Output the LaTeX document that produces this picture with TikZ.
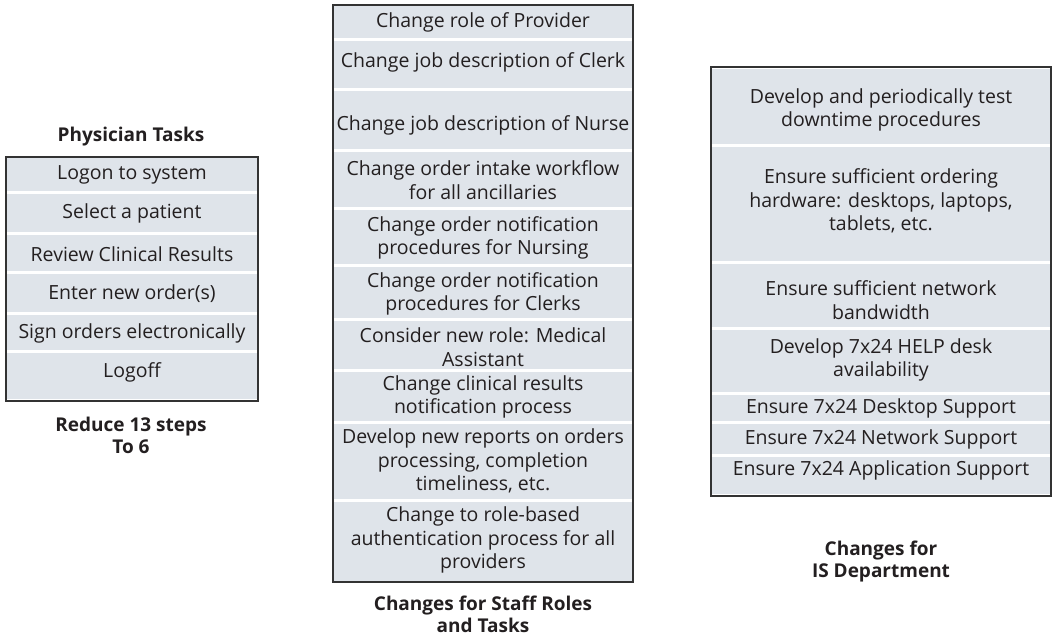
\documentclass[tikz,border=0pt]{standalone}
\usepackage{fontspec}
\setmainfont{Open Sans}
\definecolor{rowfill}{HTML}{DFE4EA}
\definecolor{boxline}{HTML}{333333}
\definecolor{ctext}{HTML}{231F20}

\begin{document}
\begin{tikzpicture}[x=1pt, y=-1pt,
  rowtext/.style={font=\fontsize{19.5}{23.5}\selectfont, text=ctext, align=center, inner sep=0pt},
  captext/.style={font=\fontsize{19}{22}\selectfont\bfseries, text=ctext, align=center, inner sep=0pt},
  outline/.style={draw=boxline, line width=1.8pt}]
  \useasboundingbox (0,0) rectangle (1060,638);
  % physician tasks
  \node[captext] (phystitle) at (131,137) {Physician Tasks};
  \foreach \ya/\yb/\ym/\txt [count=\i] in {
      158/191/175/{Logon to system},
      194/232/213/{Select a patient},
      235/271/254/{Review Clinical Results},
      274/312/294/{Enter new order(s)},
      315/350/333/{Sign orders electronically},
      353/399/372/{Logoff}}{
    \fill[rowfill] (7,\ya) rectangle (257,\yb);
    \node[rowtext] (phys\i) at (132,\ym) {\txt};
  }
  \draw[outline] (6,157) rectangle (258,401);
  \node[captext] (physnote) at (131,435) {Reduce 13 steps\\To 6};
  % staff roles and tasks
  \foreach \ya/\yb/\ym/\txt [count=\i] in {
      6/38/22/{Change role of Provider},
      41/88/62/{Change job description of Clerk},
      91/149/125/{Change job description of Nurse},
      152/207/180/{Change order intake workflow\\for all ancillaries},
      210/264/238/{Change order notification\\procedures for Nursing},
      267/318/294/{Change order notification\\procedures for Clerks},
      321/369/347/{Consider new role: Medical\\Assistant},
      372/421/397/{Change clinical results\\notification process},
      424/499/461/{Develop new reports on orders\\processing, completion\\timeliness, etc.},
      502/581/540/{Change to role-based\\authentication process for all\\providers}}{
    \fill[rowfill] (334,\ya) rectangle (632,\yb);
    \node[rowtext] (staff\i) at (483,\ym) {\txt};
  }
  \draw[outline] (333,5) rectangle (633,582);
  \node[captext] (staffnote) at (483,614) {Changes for Staff Roles\\and Tasks};
  % IS department
  \foreach \ya/\yb/\ym/\txt [count=\i] in {
      69/144/110/{Develop and periodically test\\downtime procedures},
      147/261/201/{Ensure sufficient ordering\\hardware: desktops, laptops,\\tablets, etc.},
      264/327/300/{Ensure sufficient network\\bandwidth},
      330/392/360/{Develop 7x24 HELP desk\\availability},
      395/421/408/{Ensure 7x24 Desktop Support},
      424/454/439/{Ensure 7x24 Network Support},
      457/494/470/{Ensure 7x24 Application Support}}{
    \fill[rowfill] (712,\ya) rectangle (1050,\yb);
    \node[rowtext] (isdep\i) at (881,\ym) {\txt};
  }
  \draw[outline] (711,67) rectangle (1051,496);
  \node[captext] (isnote) at (881,562) {Changes for\\IS Department};
\end{tikzpicture}
\end{document}
